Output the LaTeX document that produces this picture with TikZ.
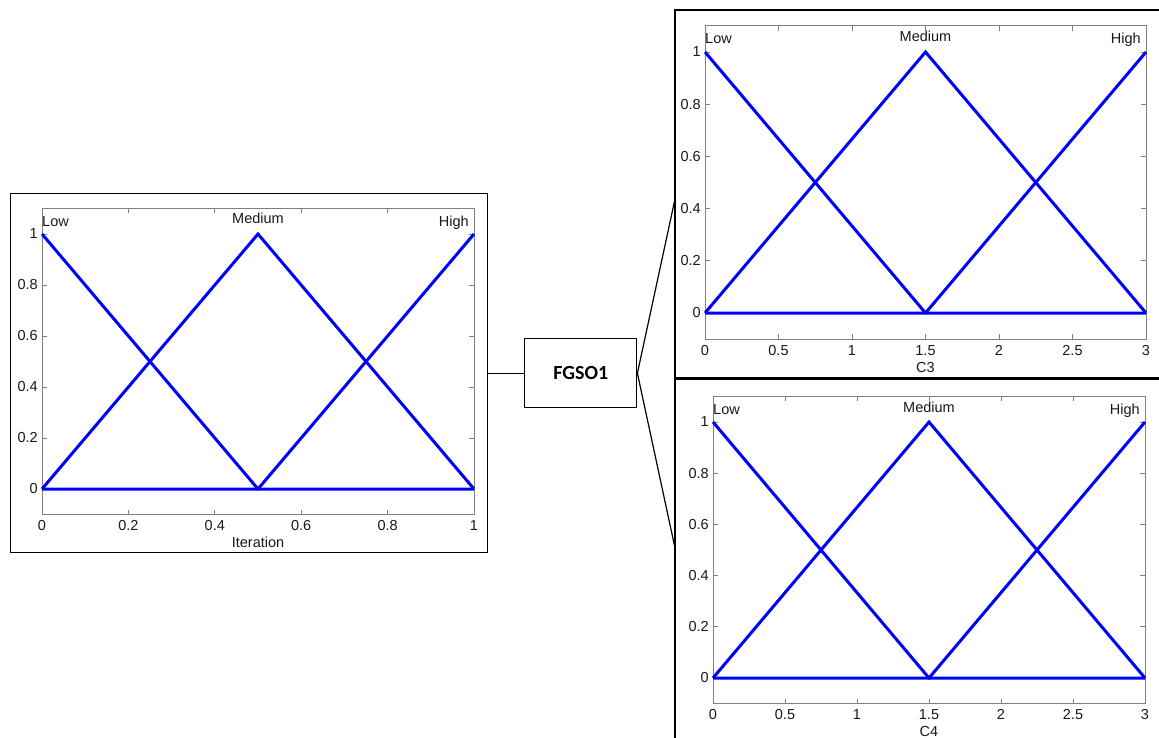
\documentclass[tikz,border=0pt]{standalone}
\usepackage{fontspec}
\setmainfont{Liberation Sans}
\newfontfamily\calibri{Carlito}
% #1 prefix, #2 x0 px, #3 y0 px (data y=0), #4 px per x unit, #5 px per y unit, #6 xmax, #7 xticks, #8 xlabel, #9 mid
\newcommand\fzplot[9]{%
\begin{scope}[shift={(#2pt,-#3pt)},x=#4pt,y=#5pt]
  \draw[axisbox] (0,-0.1) rectangle (#6,1.1);
  \foreach \t [count=\i] in {#7}{%
    \draw[axisbox] (\t,-0.1) -- ++(0,5pt) (\t,1.1) -- ++(0,-5pt);
    \node[ticklab,anchor=north] (#1x\i) at ([yshift=-6pt]\t,-0.1) {\t};
  }
  \foreach \t [count=\i] in {0,0.2,0.4,0.6,0.8,1}{%
    \draw[axisbox] (0,\t) -- ++(5pt,0) (#6,\t) -- ++(-5pt,0);
    \node[ticklab,anchor=east] (#1y\i) at ([xshift=-4pt]0,\t) {\t};
  }
  \node[ticklab,anchor=center] (#1lab) at ([yshift=-28pt]#9,-0.1) {#8};
  \node[ticklab,anchor=base west] (#1low) at ([yshift=8pt]0,1) {Low};
  \node[ticklab,anchor=base] (#1med) at ([yshift=10pt]#9,1) {Medium};
  \node[ticklab,anchor=base east] (#1high) at ([xshift=-5pt,yshift=8pt]#6,1) {High};
  \draw[mf] (0,1) -- (#9,0) -- (#6,0);
  \draw[mf] (0,0) -- (#9,1) -- (#6,0);
  \draw[mf] (0,0) -- (#9,0) -- (#6,1);
\end{scope}}
\begin{document}
\begin{tikzpicture}[x=1pt,y=-1pt,
  frame/.style={draw=black,line width=1.4pt,inner sep=0pt},
  axisbox/.style={draw=black!50,line width=0.9pt},
  ticklab/.style={font=\fontsize{14.5}{16}\selectfont,text=black!90,inner sep=0pt},
  mf/.style={draw=blue,line width=3pt},
  conn/.style={draw=black,line width=1.2pt}]
\useasboundingbox[fill=white] (0,0) rectangle (1159,738);
% left frame and plot
\node[frame,minimum width=477pt,minimum height=359pt,anchor=north west] (lframe) at (10,193) {};
\fzplot{a}{42}{489}{432}{255}{1}{0,0.2,0.4,0.6,0.8,1}{Iteration}{0.5}
% central block
\node[frame,minimum width=112pt,minimum height=69pt,anchor=north west,
  font=\calibri\bfseries\fontsize{20}{24}\selectfont] (fgso) at (524,338) {FGSO1};
\draw[conn] (lframe.east) -- (fgso.west);
% right frames
\draw[frame] (1170,10) -- (675,10) -- (675,378) -- (675,745);
\draw[draw=black,line width=3pt] (675,378) -- (1170,378);
\coordinate (c3in) at (675,199);
\coordinate (c4in) at (675,548);
\draw[conn] (fgso.east) -- (c3in);
\draw[conn] (fgso.east) -- (c4in);
\fzplot{b}{705}{313}{147}{261}{3}{0,0.5,1,1.5,2,2.5,3}{C3}{1.5}
\fzplot{c}{713}{678}{144}{256}{3}{0,0.5,1,1.5,2,2.5,3}{C4}{1.5}
\end{tikzpicture}
\end{document}
